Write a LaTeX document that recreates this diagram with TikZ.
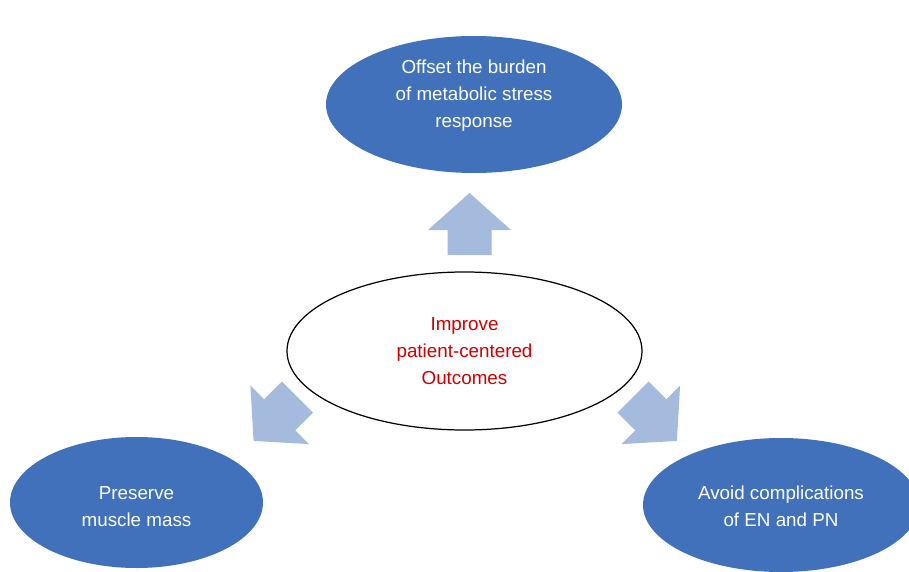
\documentclass[tikz,border=0pt]{standalone}
\usepackage{fontspec}
\setmainfont{Liberation Sans}
\usetikzlibrary{shapes.geometric}
\definecolor{goalblue}{RGB}{65,113,186}
\definecolor{arrowblue}{RGB}{164,187,222}
\definecolor{outcomered}{RGB}{204,0,0}

\begin{document}
\begin{tikzpicture}[
    goal/.style={ellipse, fill=goalblue, inner sep=0pt},
    goaltext/.style={text=white, align=center, inner sep=0pt},
    core/.style={ellipse, draw=black, line width=0.7pt, text=outcomered, align=center, inner sep=0pt},
    blockarrow/.style={fill=arrowblue},
    font=\fontsize{10.7}{15.4}\selectfont]

    \useasboundingbox (0,0) rectangle (18.18,11.42);

    % goals
    \node[goal, minimum width=5.92cm, minimum height=2.74cm] (stress) at (9.48,9.33) {};
    \node[goal, minimum width=5.06cm, minimum height=2.62cm] (muscle) at (2.73,1.37) {};
    \node[goal, minimum width=5.52cm, minimum height=2.68cm] (compl) at (15.62,1.32) {};

    \node[goaltext] (stressText) at ([yshift=0.17cm]stress.center) {Offset the burden\\of metabolic stress\\response};
    \node[goaltext] (muscleText) at ([yshift=-0.08cm]muscle.center) {Preserve\\muscle mass};
    \node[goaltext] (complText) at ([yshift=-0.02cm]compl.center) {Avoid complications\\of EN and PN};

    % centre
    \node[core, minimum width=7.10cm, minimum height=3.16cm] (outcome) at (9.29,4.40) {Improve\\patient-centered\\Outcomes};

    % block arrows
    \coordinate (upArrow) at (9.39,6.94);
    \coordinate (leftArrow) at (5.51,3.04);
    \coordinate (rightArrow) at (13.10,3.04);

    \begin{scope}[shift={(upArrow)}]
        \fill[blockarrow] (-0.44,-0.62) -- (-0.44,-0.12) -- (-0.83,-0.12) -- (0,0.62) -- (0.83,-0.12) -- (0.44,-0.12) -- (0.44,-0.62) -- cycle;
    \end{scope}

    \begin{scope}[shift={(leftArrow)}, rotate=135]
        \fill[blockarrow] (-0.44,-0.62) -- (-0.44,-0.12) -- (-0.83,-0.12) -- (0,0.62) -- (0.83,-0.12) -- (0.44,-0.12) -- (0.44,-0.62) -- cycle;
    \end{scope}

    \begin{scope}[shift={(rightArrow)}, rotate=-135]
        \fill[blockarrow] (-0.44,-0.62) -- (-0.44,-0.12) -- (-0.83,-0.12) -- (0,0.62) -- (0.83,-0.12) -- (0.44,-0.12) -- (0.44,-0.62) -- cycle;
    \end{scope}

\end{tikzpicture}
\end{document}
